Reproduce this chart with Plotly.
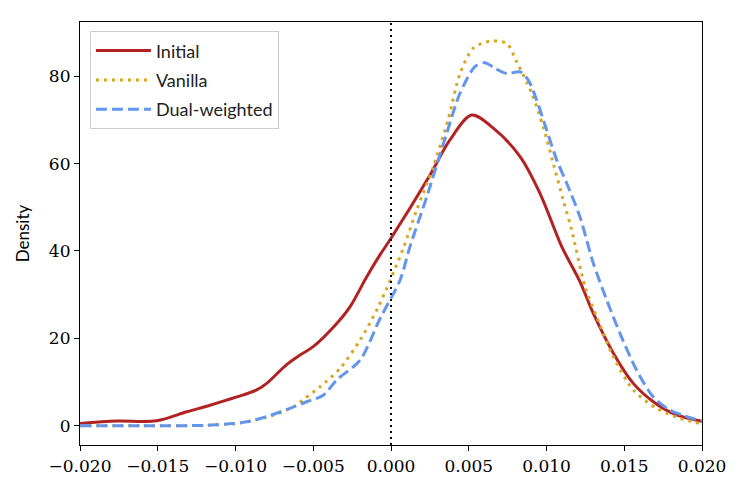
import plotly.graph_objects as go

# Initial (red, solid)
x_initial = [-0.020, -0.01764, -0.01507, -0.01314, -0.01164, -0.00992, -0.00864, -0.00799,
             -0.00671, -0.00585, -0.00500, -0.00349, -0.00264, -0.00156, -0.00071, 0.0,
             0.00251, 0.00379, 0.00519, 0.00658, 0.0083, 0.00958, 0.01098, 0.01215,
             0.01301, 0.0143, 0.01558, 0.01687, 0.01815, 0.020]
y_initial = [0.5, 1.07, 1.15, 3.2, 4.7, 6.6, 8.2, 9.7,
             14.0, 16.2, 18.1, 23.4, 27.2, 34.1, 39.1, 42.9,
             57.4, 65.4, 71.1, 68.1, 61.6, 53.2, 41.0, 33.0,
             25.7, 16.6, 9.7, 5.5, 2.8, 1.0]

# Vanilla (goldenrod, dotted)
x_vanilla = [-0.020, -0.016, -0.012, -0.01, -0.00928, -0.00757, -0.00628, -0.00553, -0.00457,
             -0.00328, -0.00199, -0.00082, 0.00079, 0.00165, 0.00272, 0.00369, 0.00444,
             0.00529, 0.00637, 0.00744, 0.00808, 0.00905, 0.00979, 0.01044, 0.01108,
             0.01162, 0.01248, 0.01323, 0.0143, 0.01558, 0.01708, 0.01859, 0.020]
y_vanilla = [0.0, 0.0, 0.1, 0.5, 0.9, 2.4, 4.3, 6.3, 8.9,
             13.1, 19.6, 27.2, 40.6, 49.4, 59.3, 70.3, 80.6,
             86.4, 88.0, 87.5, 83.3, 76.1, 68.4, 60.0, 51.6,
             44.8, 31.8, 24.9, 15.8, 8.2, 4.0, 1.7, 0.4]

# Dual-weighted (cornflowerblue, dashed)
x_dual = [-0.020, -0.016, -0.012, -0.01014, -0.00928, -0.008, -0.0065, -0.00542, -0.00435,
          -0.00349, -0.00199, -0.00071, 0.00058, 0.00122, 0.0023, 0.00358, 0.00444,
          0.0054, 0.00604, 0.00669, 0.00744, 0.0083, 0.00883, 0.00937, 0.01001,
          0.01066, 0.0113, 0.01215, 0.01301, 0.01387, 0.01473, 0.0158, 0.01687,
          0.01794, 0.020]
y_dual = [0.0, 0.0, 0.1, 0.5, 0.9, 2.1, 4.0, 5.5, 7.0,
          10.5, 15.0, 24.5, 33.3, 41.0, 52.4, 66.9, 76.1,
          82.2, 83.1, 81.8, 80.6, 81.0, 79.1, 74.5, 67.7,
          60.8, 55.5, 47.8, 37.2, 28.8, 21.1, 12.7, 6.6,
          3.6, 1.0]

x_ticks = [-0.020, -0.015, -0.010, -0.005, 0.000, 0.005, 0.010, 0.015, 0.020]
x_ticklabels = ["\u22120.020", "\u22120.015", "\u22120.010", "\u22120.005", "0.000",
                "0.005", "0.010", "0.015", "0.020"]
y_ticks = [0, 20, 40, 60, 80]
y_ticklabels = ["0", "20", "40", "60", "80"]

fig = go.Figure()
fig.add_trace(go.Scatter(x=x_initial, y=y_initial, mode="lines", name="Initial", legendgroup="a",
                         line=dict(color="#B22222", width=3, shape="spline", smoothing=0.9)))
fig.add_trace(go.Scatter(x=x_vanilla, y=y_vanilla, mode="lines", name="Vanilla", legendgroup="b",
                         line=dict(color="#DAA520", width=3, dash="3px,5px", shape="spline", smoothing=0.8)))
fig.add_trace(go.Scatter(x=x_dual, y=y_dual, mode="lines", name="Dual-weighted", legendgroup="c",
                         line=dict(color="#6495ED", width=3, dash="11px,5px", shape="spline", smoothing=0.8)))

fig.add_shape(type="line", xref="x", yref="paper", x0=0, x1=0, y0=0, y1=1,
              line=dict(color="black", width=2, dash="2px,4px"))

serif = "DejaVu Serif"
sans = "Lato"

fig.update_layout(
    width=739, height=490,
    margin=dict(l=72, r=45, t=14, b=53),
    plot_bgcolor="white", paper_bgcolor="white",
    showlegend=True,
    legend=dict(x=0.016, y=0.978, xanchor="left", yanchor="top",
                bgcolor="rgba(255,255,255,0.8)", bordercolor="#cccccc", borderwidth=1,
                font=dict(family=sans, size=18, color="#222222"),
                tracegroupgap=3, itemwidth=55),
    xaxis=dict(range=[-0.020, 0.020], tickvals=x_ticks, ticktext=x_ticklabels,
               showgrid=False, zeroline=False, showline=True, linecolor="black", linewidth=1.2,
               mirror=True, ticks="outside", ticklen=5, tickcolor="black",
               tickfont=dict(family=serif, size=17, color="black")),
    yaxis=dict(range=[-4.4, 92.4], tickvals=y_ticks, ticktext=y_ticklabels,
               showgrid=False, zeroline=False, showline=True, linecolor="black", linewidth=1.2,
               mirror=True, ticks="outside", ticklen=5, tickcolor="black",
               tickfont=dict(family=serif, size=17, color="black"),
               title=dict(text="Density", font=dict(family=sans, size=17, color="black"), standoff=14)),
)

fig.write_html("out.html")
